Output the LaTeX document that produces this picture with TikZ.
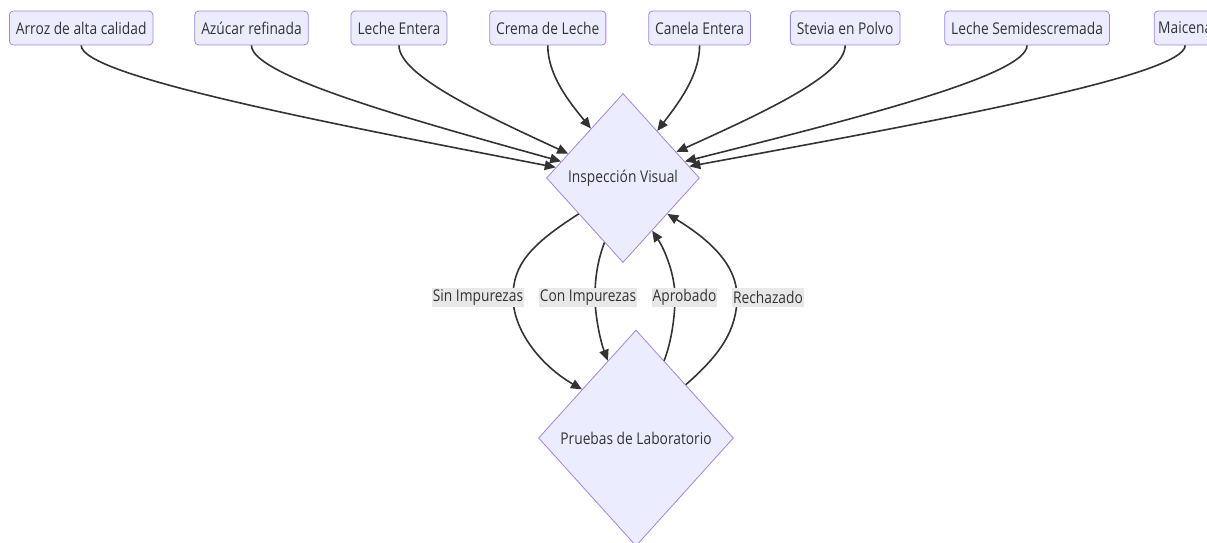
\documentclass[tikz,border=0pt]{standalone}
\usepackage{fontspec}
\setmainfont{Open Sans}[FakeStretch=0.85]
\usepackage{tikz}
\usetikzlibrary{arrows.meta,positioning,calc,shapes.geometric}

\definecolor{nodefill}{HTML}{ECECFF}
\definecolor{nodeline}{HTML}{9370DB}
\definecolor{edgeline}{HTML}{333333}
\definecolor{lblfill}{HTML}{E8E8E8}

\tikzset{
  txt/.style={font=\fontsize{16.2}{19}\selectfont, text=edgeline},
  ingr/.style={txt, draw=nodeline!85, fill=nodefill, line width=0.8pt, rounded corners=4pt,
    inner xsep=6.5pt, inner ysep=0pt, minimum height=34pt},
  decision/.style={txt, diamond, draw=nodeline!85, fill=nodefill, line width=0.8pt, inner sep=0pt},
  lbl/.style={txt, fill=lblfill, inner xsep=1pt, inner ysep=0pt, minimum height=19pt},
  flow/.style={draw=edgeline, line width=1.6pt, -{Triangle[length=11pt,width=9.5pt]}}
}

\begin{document}
\begin{tikzpicture}[x=1pt,y=-1pt]
    \useasboundingbox (0,0) rectangle (1207,543);

    % Ingredients
    \node[ingr, anchor=west] (arroz) at (9,28) {Arroz de alta calidad};
    \node[ingr, right=41pt of arroz] (azucar) {Azúcar refinada};
    \node[ingr, right=42pt of azucar] (leche) {Leche Entera};
    \node[ingr, right=42pt of leche] (crema) {Crema de Leche};
    \node[ingr, right=42pt of crema] (canela) {Canela Entera};
    \node[ingr, right=39pt of canela] (stevia) {Stevia en Polvo};
    \node[ingr, right=44pt of stevia] (semi) {Leche Semidescremada};
    \node[ingr, right=44pt of semi, inner xsep=4pt] (maicena) {Maicena};

    % Decisions
    \node[decision, minimum width=153pt, minimum height=169pt] (insp) at (623,178) {Inspección Visual};
    \node[decision, minimum width=195pt, minimum height=216pt] (lab) at (636,438) {Pruebas de Laboratorio};

    % Ingredients into the visual check
    \foreach \b/\a in {arroz/171, azucar/165, leche/156, crema/123, canela/54, stevia/26, semi/15, maicena/10}
        \draw[flow] (\b.south) .. controls +(0,30) and ($(\b.south)!0.5!(insp.\a)+(0,15)$) .. (insp.\a);

    % Between the two checks
    \draw[flow] (insp.219) .. controls (530,245) and (513,265) .. (513,297)
        .. controls (513,330) and (540,365) .. (lab.138);
    \draw[flow] (insp.254) .. controls (597,262) and (595,280) .. (595,297)
        .. controls (595,315) and (600,340) .. (lab.110);
    \draw[flow] (lab.70) .. controls (672,340) and (675,315) .. (675,297)
        .. controls (675,275) and (665,250) .. (insp.299);
    \draw[flow] (lab.47) .. controls (720,355) and (737,330) .. (737,297)
        .. controls (737,265) and (710,240) .. (insp.321);

    \node[lbl] (sinimp) at (478,297.5) {Sin Impurezas};
    \node[lbl] (conimp) at (588,297.5) {Con Impurezas};
    \node[lbl] (aprob) at (684.5,297.5) {Aprobado};
    \node[lbl] (rechaz) at (768,297.5) {Rechazado};
\end{tikzpicture}
\end{document}
